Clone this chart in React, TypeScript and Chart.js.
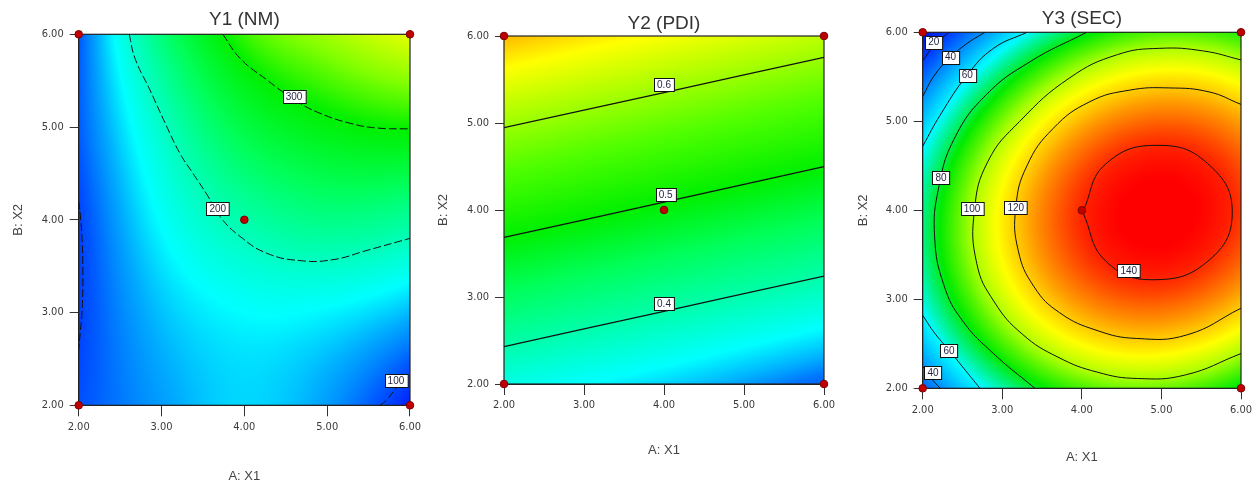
import React, { useEffect, useRef } from 'react';
import { Chart, registerables } from 'chart.js';

Chart.register(...registerables);

// ---------------- data ----------------
const AXIS_TICKS = [2, 3, 4, 5, 6];
const DESIGN_X1 = [2, 2, 6, 6, 4];
const DESIGN_X2 = [2, 6, 2, 6, 4];

// Response grids: rows are X2 = 2,3,4,5,6 ; columns are X1 = 2,3,4,5,6
const Y1_GRID = [
  [105, 135, 155, 135, 80],
  [97, 148, 168, 165, 145],
  [98, 170, 210, 228, 217],
  [110, 196, 262, 291, 302],
  [108, 235, 315, 345, 368],
];
const Y2_GRID = [
  [0.366, 0.35, 0.334, 0.314, 0.29],
  [0.445, 0.429, 0.413, 0.397, 0.381],
  [0.525, 0.509, 0.493, 0.477, 0.461],
  [0.604, 0.588, 0.572, 0.556, 0.54],
  [0.686, 0.668, 0.652, 0.636, 0.62],
];
const Y3_GRID = [
  [27.8, 67.5, 89.4, 93.4, 79.7],
  [63.1, 104.8, 128.6, 134.7, 123.0],
  [70.5, 114.1, 139.9, 148.0, 138.3],
  [49.8, 95.4, 123.2, 133.2, 125.5],
  [1.1, 48.7, 78.5, 90.5, 84.8],
];

// Contour lines [X1, X2]
const Y1_C100_LEFT: [number, number][] = [[2.0, 4.2], [2.02, 4.05], [2.04, 3.8], [2.05, 3.4], [2.04, 3.0], [2.02, 2.8], [2.0, 2.6]];
const Y1_C100_RIGHT: [number, number][] = [[5.64, 2.0], [5.72, 2.06], [5.84, 2.19], [6.0, 2.33]];
const Y1_C200: [number, number][] = [[2.61, 6.0], [2.68, 5.74], [2.86, 5.4], [3.04, 5.05], [3.22, 4.72], [3.38, 4.5], [3.55, 4.27], [3.71, 4.03], [3.95, 3.82], [4.27, 3.64], [4.67, 3.56], [5.07, 3.57], [5.48, 3.67], [6.0, 3.8]];
const Y1_C300: [number, number][] = [[3.74, 6.0], [3.95, 5.74], [4.27, 5.51], [4.61, 5.29], [4.91, 5.15], [5.28, 5.04], [5.6, 4.99], [6.0, 4.98]];

const Y2_C04: [number, number][] = [[2.0, 2.43], [4.0, 2.835], [6.0, 3.24]];
const Y2_C05: [number, number][] = [[2.0, 3.686], [4.0, 4.09], [6.0, 4.498]];
const Y2_C06: [number, number][] = [[2.0, 4.946], [4.0, 5.35], [6.0, 5.755]];

const Y3_C20: [number, number][] = [[2.0, 5.68], [2.15, 5.86], [2.33, 6.0]];
const Y3_C40_TOP: [number, number][] = [[2.0, 5.28], [2.15, 5.52], [2.35, 5.72], [2.55, 5.87], [2.78, 6.0]];
const Y3_C60_TOP: [number, number][] = [[2.0, 4.72], [2.22, 5.07], [2.56, 5.52], [2.89, 5.82], [3.31, 6.0]];
const Y3_C80: [number, number][] = [[4.06, 6.0], [3.35, 5.67], [2.8, 5.3], [2.4, 4.81], [2.2, 4.25], [2.15, 3.7], [2.27, 3.15], [2.5, 2.76], [2.89, 2.39], [3.41, 2.0]];
const Y3_C100: [number, number][] = [[6.0, 5.69], [5.53, 5.79], [4.98, 5.82], [4.45, 5.75], [3.85, 5.49], [3.22, 5.0], [2.82, 4.55], [2.65, 4.0], [2.68, 3.4], [2.9, 2.97], [3.25, 2.61], [3.7, 2.35], [4.2, 2.18], [4.7, 2.11], [5.3, 2.15], [6.0, 2.39]];
const Y3_C120: [number, number][] = [[6.0, 5.19], [5.6, 5.33], [5.1, 5.375], [4.6, 5.35], [4.1, 5.22], [3.64, 4.92], [3.31, 4.5], [3.17, 4.03], [3.2, 3.55], [3.4, 3.14], [3.72, 2.85], [4.19, 2.65], [4.69, 2.56], [5.32, 2.6], [6.0, 2.9]];
const Y3_C140: [number, number][] = [[4.01, 3.98], [4.3, 4.52], [4.97, 4.73], [5.6, 4.51], [5.89, 3.98], [5.6, 3.44], [4.9, 3.22], [4.3, 3.43], [4.01, 3.98]];
const Y3_C60_BOTTOM: [number, number][] = [[2.0, 2.82], [2.15, 2.62], [2.34, 2.42], [2.52, 2.22], [2.72, 2.0]];
const Y3_C40_BOTTOM: [number, number][] = [[2.0, 2.25], [2.1, 2.12], [2.22, 2.0]];

// Contour labels [text, X1, X2]
const Y1_LABELS: [string, number, number][] = [['300', 4.6, 5.33], ['200', 3.68, 4.12], ['100', 5.83, 2.27]];
const Y2_LABELS: [string, number, number][] = [['0.6', 4.0, 5.44], ['0.5', 4.02, 4.18], ['0.4', 4.0, 2.92]];
const Y3_LABELS: [string, number, number][] = [
  ['20', 2.14, 5.89], ['40', 2.35, 5.72], ['60', 2.56, 5.52], ['80', 2.23, 4.37], ['100', 2.62, 4.02],
  ['120', 3.17, 4.03], ['140', 4.59, 3.32], ['60', 2.33, 2.42], ['40', 2.13, 2.18],
];

// ---------------- styles ----------------
const FONT = '"Liberation Sans", Arial, sans-serif';
const NARROW = '"Liberation Sans Narrow", "DejaVu Sans Condensed", "Liberation Sans", sans-serif';

type Stop = [number, number, number, number];
const Y1_STOPS: Stop[] = [[80, 0, 30, 255], [110, 0, 90, 255], [140, 0, 170, 255], [168, 0, 255, 255], [200, 0, 255, 190], [250, 0, 255, 90], [300, 0, 240, 0], [335, 130, 255, 0], [370, 235, 255, 0], [400, 255, 220, 0]];
const Y2_STOPS: Stop[] = [[0.27, 0, 70, 255], [0.3, 0, 115, 255], [0.32, 0, 175, 255], [0.35, 0, 255, 255], [0.4, 0, 255, 170], [0.45, 0, 255, 90], [0.5, 0, 240, 0], [0.56, 80, 255, 0], [0.62, 190, 255, 0], [0.655, 255, 255, 0], [0.69, 255, 175, 0]];
const Y3_STOPS: Stop[] = [[0, 0, 10, 220], [20, 0, 60, 255], [40, 0, 150, 255], [60, 0, 250, 255], [74, 0, 240, 100], [82, 0, 235, 0], [92, 90, 245, 0], [100, 170, 255, 0], [112, 255, 255, 0], [122, 255, 190, 0], [132, 255, 110, 0], [141, 255, 30, 0], [146, 255, 0, 0]];

interface Spec {
  title: string;
  grid: number[][];
  stops: Stop[];
  contours: [number, number][][];
  dash: number[];
  lineWidth: number;
  labels: [string, number, number][];
  left: number;
  width: number;
  yWidth: number;
  xHeight: number;
  rightPad: number;
  titlePad: { top: number; bottom: number };
  xTitlePadBottom: number;
  yTitlePadTop: number;
}

const SPECS: Spec[] = [
  {
    title: 'Y1 (NM)', grid: Y1_GRID, stops: Y1_STOPS,
    contours: [Y1_C100_LEFT, Y1_C100_RIGHT, Y1_C200, Y1_C300], dash: [8, 3], lineWidth: 1,
    labels: Y1_LABELS, left: 0, width: 425, yWidth: 78.7, xHeight: 83.7, rightPad: 15,
    titlePad: { top: 8.1, bottom: 3.4 }, xTitlePadBottom: 4.5, yTitlePadTop: 10.5,
  },
  {
    title: 'Y2 (PDI)', grid: Y2_GRID, stops: Y2_STOPS,
    contours: [Y2_C04, Y2_C05, Y2_C06], dash: [], lineWidth: 1.3,
    labels: Y2_LABELS, left: 425, width: 420, yWidth: 79, xHeight: 105, rightPad: 21,
    titlePad: { top: 12.6, bottom: 0.6 }, xTitlePadBottom: 30.5, yTitlePadTop: 10.5,
  },
  {
    title: 'Y3 (SEC)', grid: Y3_GRID, stops: Y3_STOPS,
    contours: [Y3_C20, Y3_C40_TOP, Y3_C60_TOP, Y3_C80, Y3_C100, Y3_C120, Y3_C140, Y3_C60_BOTTOM, Y3_C40_BOTTOM], dash: [], lineWidth: 1,
    labels: Y3_LABELS, left: 845, width: 415, yWidth: 77.7, xHeight: 100.7, rightPad: 19,
    titlePad: { top: 7.4, bottom: 2.1 }, xTitlePadBottom: 24.2, yTitlePadTop: 10.5,
  },
];

// ---------------- helpers ----------------
function extendGrid(g: number[][]): number[][] {
  const rows = g.map((r) => [3 * r[0] - 3 * r[1] + r[2], ...r, 3 * r[4] - 3 * r[3] + r[2]]);
  const n = rows.length;
  const first = rows[0].map((_, i) => 3 * rows[0][i] - 3 * rows[1][i] + rows[2][i]);
  const last = rows[n - 1].map((_, i) => 3 * rows[n - 1][i] - 3 * rows[n - 2][i] + rows[n - 3][i]);
  return [first, ...rows, last];
}
function cr(p0: number, p1: number, p2: number, p3: number, t: number) {
  return 0.5 * (2 * p1 + (-p0 + p2) * t + (2 * p0 - 5 * p1 + 4 * p2 - p3) * t * t + (-p0 + 3 * p1 - 3 * p2 + p3) * t * t * t);
}
function sampleGrid(ext: number[][], u: number, v: number) {
  let i = Math.floor(u); if (i < 0) i = 0; if (i > 3) i = 3;
  let j = Math.floor(v); if (j < 0) j = 0; if (j > 3) j = 3;
  const fx = u - i; const fy = v - j;
  const c: number[] = [];
  for (let k = 0; k < 4; k++) {
    const row = ext[j + k];
    c.push(cr(row[i], row[i + 1], row[i + 2], row[i + 3], fx));
  }
  return cr(c[0], c[1], c[2], c[3], fy);
}
function colorFor(stops: Stop[], val: number): [number, number, number] {
  if (val <= stops[0][0]) return [stops[0][1], stops[0][2], stops[0][3]];
  for (let k = 1; k < stops.length; k++) {
    if (val <= stops[k][0]) {
      const a = stops[k - 1]; const b = stops[k];
      const t = (val - a[0]) / (b[0] - a[0]);
      return [a[1] + (b[1] - a[1]) * t, a[2] + (b[2] - a[2]) * t, a[3] + (b[3] - a[3]) * t];
    }
  }
  const l = stops[stops.length - 1];
  return [l[1], l[2], l[3]];
}

function makePlugin(spec: Spec) {
  const ext = extendGrid(spec.grid);
  return {
    id: 'contourDecor',
    beforeDatasetsDraw(chart: any) {
      const { ctx, chartArea: ca, scales } = chart;
      const xs = scales.x; const ys = scales.y;
      const L = Math.round(ca.left); const T = Math.round(ca.top);
      const W = Math.round(ca.right) - L; const H = Math.round(ca.bottom) - T;
      const off = document.createElement('canvas');
      off.width = W; off.height = H;
      const octx = off.getContext('2d')!;
      const img = octx.createImageData(W, H);
      for (let py = 0; py < H; py++) {
        const yv = ys.getValueForPixel(T + py + 0.5);
        for (let px = 0; px < W; px++) {
          const xv = xs.getValueForPixel(L + px + 0.5);
          const val = sampleGrid(ext, xv - 2, yv - 2);
          const [r, g, b] = colorFor(spec.stops, val);
          const idx = (py * W + px) * 4;
          img.data[idx] = r; img.data[idx + 1] = g; img.data[idx + 2] = b; img.data[idx + 3] = 255;
        }
      }
      octx.putImageData(img, 0, 0);
      ctx.save();
      ctx.drawImage(off, L, T);
      ctx.strokeStyle = '#222';
      ctx.lineWidth = 1.2;
      ctx.strokeRect(ca.left, ca.top, ca.right - ca.left, ca.bottom - ca.top);
      ctx.restore();
    },
    afterDatasetsDraw(chart: any) {
      const { ctx, scales } = chart;
      ctx.save();
      ctx.font = `10px ${FONT}`;
      ctx.textAlign = 'center';
      ctx.textBaseline = 'middle';
      for (const [text, x, y] of spec.labels) {
        const px = scales.x.getPixelForValue(x);
        const py = scales.y.getPixelForValue(y);
        const w = ctx.measureText(text).width + 6;
        const h = 13;
        const bx = Math.round(px - w / 2) + 0.5; const by = Math.round(py - h / 2) + 0.5;
        ctx.fillStyle = '#fff';
        ctx.fillRect(bx, by, w, h);
        ctx.strokeStyle = '#111';
        ctx.lineWidth = 1;
        ctx.strokeRect(bx, by, w, h);
        ctx.fillStyle = '#1e2240';
        ctx.fillText(text, px, py + 0.5);
      }
      ctx.restore();
    },
  };
}

function ContourChart({ spec }: { spec: Spec }) {
  const ref = useRef<HTMLCanvasElement>(null);
  useEffect(() => {
    const datasets: any[] = [
      {
        data: DESIGN_X1.map((x, i) => ({ x, y: DESIGN_X2[i] })),
        showLine: false,
        pointRadius: 3.8,
        pointBackgroundColor: '#c00000',
        pointBorderColor: '#7a0000',
        pointBorderWidth: 1,
        clip: false,
      },
      ...spec.contours.map((pts) => ({
        data: pts.map(([x, y]) => ({ x, y })),
        showLine: true,
        borderColor: '#111',
        borderWidth: spec.lineWidth,
        borderDash: spec.dash,
        pointRadius: 0,
        tension: 0.45,
        fill: false,
      })),
    ];
    const tickFont = { family: NARROW, size: 11 };
    const chart = new Chart(ref.current!, {
      type: 'scatter',
      data: { datasets },
      plugins: [makePlugin(spec)],
      options: {
        animation: false,
        responsive: false,
        events: [],
        layout: { padding: { left: 0, right: spec.rightPad, top: 0, bottom: 0 } },
        plugins: {
          legend: { display: false },
          tooltip: { enabled: false },
          title: {
            display: true, text: spec.title, fullSize: false, color: '#333',
            font: { family: FONT, size: 19, weight: 'normal' }, padding: spec.titlePad,
          },
        },
        scales: {
          x: {
            type: 'linear', min: 2, max: 6,
            afterFit: (s: any) => { s.height = spec.xHeight; },
            afterBuildTicks: (s: any) => { s.ticks = AXIS_TICKS.map((v) => ({ value: v })); },
            ticks: { callback: (v: any) => Number(v).toFixed(2), color: '#3a3a3a', font: tickFont, padding: 4, maxRotation: 0, autoSkip: false },
            grid: { drawOnChartArea: false, drawTicks: true, tickLength: 11, color: '#333' },
            border: { display: true, color: '#222' },
            title: { display: true, text: 'A: X1', color: '#444', font: { family: FONT, size: 13 }, padding: { top: 0, bottom: spec.xTitlePadBottom } },
          },
          y: {
            type: 'linear', min: 2, max: 6,
            afterFit: (s: any) => { s.width = spec.yWidth; },
            afterBuildTicks: (s: any) => { s.ticks = AXIS_TICKS.map((v) => ({ value: v })); },
            ticks: { callback: (v: any) => Number(v).toFixed(2), color: '#3a3a3a', font: tickFont, padding: 6, autoSkip: false },
            grid: { drawOnChartArea: false, drawTicks: true, tickLength: 9, color: '#333' },
            border: { display: true, color: '#222' },
            title: { display: true, text: 'B: X2', color: '#444', font: { family: FONT, size: 13 }, padding: { top: spec.yTitlePadTop, bottom: 0 } },
          },
        },
      } as any,
    });
    return () => chart.destroy();
  }, [spec]);
  return (
    <canvas
      ref={ref}
      width={spec.width}
      height={489}
      style={{ position: 'absolute', left: spec.left, top: 0, width: spec.width, height: 489 }}
    />
  );
}

export default function App() {
  return (
    <div style={{ position: 'absolute', left: 0, top: 0, width: 1260, height: 489, background: '#fff', overflow: 'hidden' }}>
      {SPECS.map((s) => (
        <ContourChart key={s.title} spec={s} />
      ))}
    </div>
  );
}
